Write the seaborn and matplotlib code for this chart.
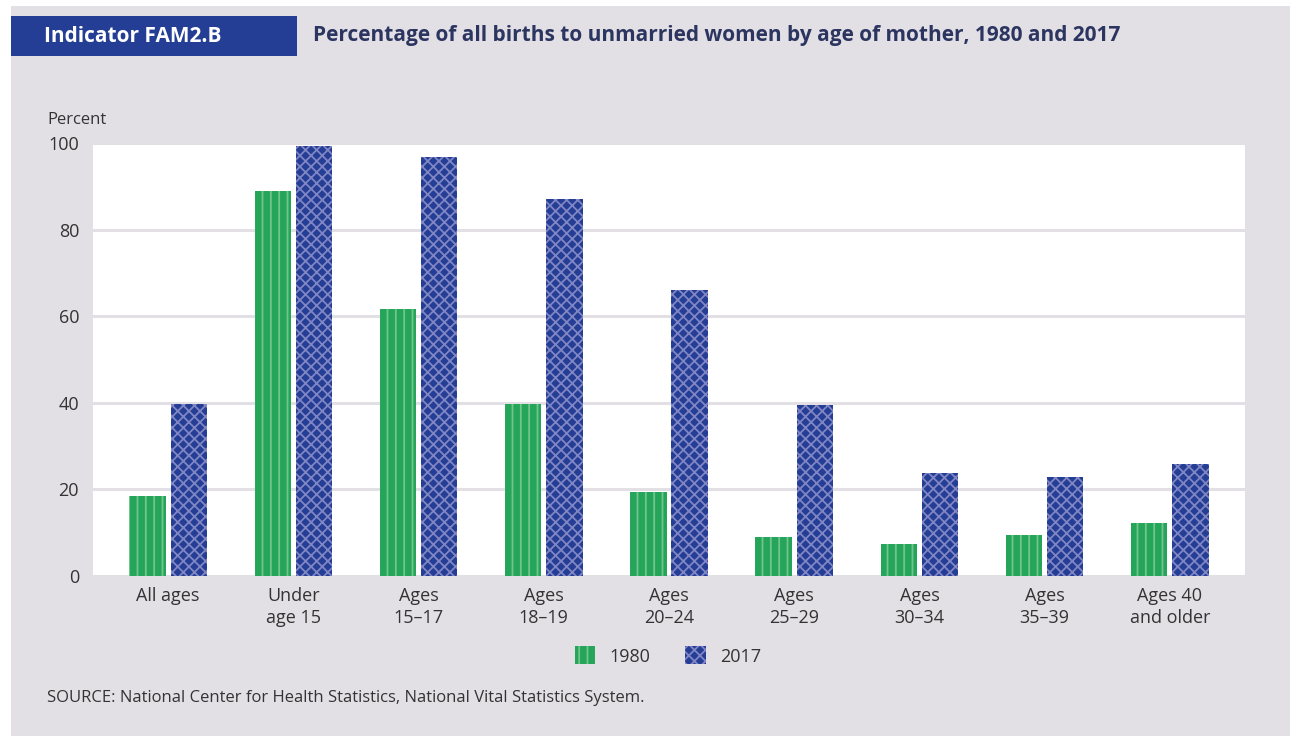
import pandas as pd
import matplotlib.pyplot as plt
import seaborn as sns
from matplotlib.patches import Rectangle, Patch

categories = ["All ages", "Under\nage 15", "Ages\n15–17", "Ages\n18–19", "Ages\n20–24",
              "Ages\n25–29", "Ages\n30–34", "Ages\n35–39", "Ages 40\nand older"]
years = ["1980", "2017"]
pct_1980 = [18.4, 88.9, 61.6, 39.8, 19.3, 9.0, 7.4, 9.5, 12.3]
pct_2017 = [39.8, 99.4, 96.8, 87.1, 66.0, 39.4, 23.7, 22.8, 25.8]
yticks = [0, 20, 40, 60, 80, 100]

df = pd.DataFrame({
    "Age": categories * 2,
    "Year": [years[0]] * len(categories) + [years[1]] * len(categories),
    "Percent": pct_1980 + pct_2017,
})

bg = "#E2E0E5"
green = "#25A559"
green_hatch = "#72C48F"
blue = "#243E95"
blue_hatch = "#8085C4"
text_col = "#333333"

sns.set_style("white")
plt.rcParams["font.family"] = ["Open Sans", "DejaVu Sans"]
plt.rcParams["hatch.linewidth"] = 1.3

fig = plt.figure(figsize=(12.9, 7.36), dpi=100)
fig.patch.set_facecolor("white")
fig.patches.append(Rectangle((11 / 1290, 0), 1 - 11 / 1290, 1 - 6 / 736,
                             transform=fig.transFigure, facecolor=bg,
                             edgecolor="none", zorder=-10))
# header box
fig.patches.append(Rectangle((11 / 1290, 1 - 56 / 736), 286 / 1290, 40 / 736,
                             transform=fig.transFigure, facecolor=blue,
                             edgecolor="none", zorder=-5))
fig.text(44 / 1290, 1 - 36 / 736, "Indicator FAM2.B", color="white",
         fontsize=15, fontweight="bold", va="center", ha="left")
fig.text(313 / 1290, 1 - 36 / 736,
         "Percentage of all births to unmarried women by age of mother, 1980 and 2017",
         color="#2B3560", fontsize=15, fontweight="bold", va="center", ha="left")

ax = fig.add_axes([93 / 1290, 1 - 576 / 736, (1245 - 93) / 1290, (576 - 143) / 736])
ax.set_facecolor("white")

sns.barplot(data=df, x="Age", y="Percent", hue="Year",
            palette=[green, blue], saturation=1, width=0.66, gap=0.12,
            legend=False, ax=ax, zorder=3)

for bar, year in zip(ax.patches, [years[0]] * len(categories) + [years[1]] * len(categories)):
    if year == "1980":
        bar.set_hatch("||")
        bar.set_edgecolor(green_hatch)
    else:
        bar.set_hatch("xxx")
        bar.set_edgecolor(blue_hatch)
    bar.set_linewidth(0)

ax.set_xlim(-0.6, len(categories) - 0.4)
ax.set_ylim(0, 100)
ax.set_yticks(yticks)
ax.yaxis.grid(True, color=bg, linewidth=2.2, zorder=0)
ax.set_axisbelow(True)
for s in ax.spines.values():
    s.set_visible(False)
ax.tick_params(axis="both", length=0, labelsize=13, labelcolor=text_col)
ax.tick_params(axis="x", pad=8)
ax.tick_params(axis="y", pad=10)
ax.set_xlabel("")
ax.set_ylabel("")
ax.set_xticks(range(len(categories)))
ax.set_xticklabels(categories, linespacing=1.25)

fig.text(47 / 1290, 1 - 120 / 736, "Percent", fontsize=12, color=text_col,
         va="center", ha="left")

handles = [Patch(facecolor=green, edgecolor=green_hatch, hatch="||", linewidth=0, label="1980"),
           Patch(facecolor=blue, edgecolor=blue_hatch, hatch="xxx", linewidth=0, label="2017")]
fig.legend(handles=handles, loc="center", bbox_to_anchor=(668 / 1290, 1 - 656 / 736),
           ncol=2, frameon=False, fontsize=13, handlelength=1.15, handleheight=1.15,
           columnspacing=1.9, handletextpad=0.8, labelcolor=text_col)

fig.text(47 / 1290, 1 - 698 / 736,
         "SOURCE: National Center for Health Statistics, National Vital Statistics System.",
         fontsize=12, color=text_col, va="center", ha="left")

fig.savefig("out.png", dpi=100, facecolor=fig.get_facecolor())
